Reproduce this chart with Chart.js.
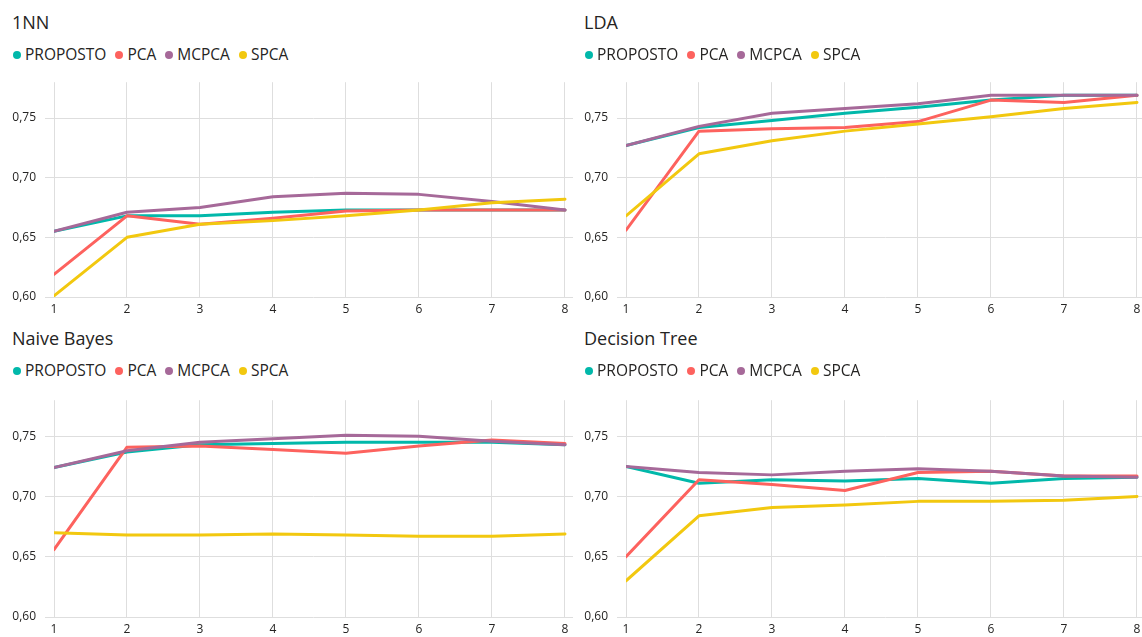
<!DOCTYPE html>
<html>
<head>
<meta charset="utf-8">
<script src="https://cdn.jsdelivr.net/npm/chart.js@4.4.1/dist/chart.umd.min.js"></script>
<style>
  html, body { margin: 0; padding: 0; background: #fff; overflow: hidden; width: 1142px; height: 637px; }
  body { position: relative; font-family: 'Open Sans', sans-serif; color: #252423; }
  .panel-title { position: absolute; font-size: 18px; line-height: 1; white-space: nowrap; }
  .legend { position: absolute; display: flex; align-items: center; font-size: 15.5px; line-height: 1; white-space: nowrap; }
  .legend .item { display: flex; align-items: center; margin-right: 9px; }
  .legend .dot { width: 8px; height: 8px; border-radius: 50%; margin-right: 4px; flex: none; }
  .plot { position: absolute; }
</style>
</head>
<body>
<script>
// Number of principal components (x axis)
const components = [1, 2, 3, 4, 5, 6, 7, 8];
const componentLabels = ['1', '2', '3', '4', '5', '6', '7', '8'];
// Accuracy ticks shown on the y axis
const accuracyTicks = [0.60, 0.65, 0.70, 0.75];

const seriesNames = ['PROPOSTO', 'PCA', 'MCPCA', 'SPCA'];
const seriesColors = ['#01B8AA', '#FD625E', '#A66999', '#F2C80F'];

// 1NN classifier accuracy
const nnProposto = [0.655, 0.668, 0.668, 0.671, 0.673, 0.673, 0.673, 0.673];
const nnPca      = [0.619, 0.668, 0.661, 0.666, 0.672, 0.673, 0.673, 0.673];
const nnMcpca    = [0.655, 0.671, 0.675, 0.684, 0.687, 0.686, 0.680, 0.673];
const nnSpca     = [0.601, 0.650, 0.661, 0.664, 0.668, 0.673, 0.679, 0.682];

// LDA classifier accuracy
const ldaProposto = [0.727, 0.742, 0.748, 0.754, 0.759, 0.765, 0.769, 0.769];
const ldaPca      = [0.656, 0.739, 0.741, 0.742, 0.747, 0.765, 0.763, 0.769];
const ldaMcpca    = [0.727, 0.743, 0.754, 0.758, 0.762, 0.769, 0.769, 0.769];
const ldaSpca     = [0.668, 0.720, 0.731, 0.739, 0.745, 0.751, 0.758, 0.763];

// Naive Bayes classifier accuracy
const nbProposto = [0.724, 0.737, 0.743, 0.744, 0.745, 0.745, 0.745, 0.743];
const nbPca      = [0.656, 0.741, 0.742, 0.739, 0.736, 0.742, 0.747, 0.744];
const nbMcpca    = [0.724, 0.738, 0.745, 0.748, 0.751, 0.750, 0.746, 0.743];
const nbSpca     = [0.670, 0.668, 0.668, 0.669, 0.668, 0.667, 0.667, 0.669];

// Decision Tree classifier accuracy
const dtProposto = [0.725, 0.711, 0.714, 0.713, 0.715, 0.711, 0.715, 0.716];
const dtPca      = [0.650, 0.714, 0.710, 0.705, 0.720, 0.721, 0.717, 0.717];
const dtMcpca    = [0.725, 0.720, 0.718, 0.721, 0.723, 0.721, 0.717, 0.716];
const dtSpca     = [0.630, 0.684, 0.691, 0.693, 0.696, 0.696, 0.697, 0.700];

const panels = [
  { title: '1NN',           series: [nnProposto, nnPca, nnMcpca, nnSpca],
    left: 0,   titleTop: 13,  legendTop: 47,  canvasTop: 66,  canvasHeight: 256, padTop: 10.5, axisHeight: 25 },
  { title: 'LDA',           series: [ldaProposto, ldaPca, ldaMcpca, ldaSpca],
    left: 572, titleTop: 13,  legendTop: 47,  canvasTop: 66,  canvasHeight: 256, padTop: 10.5, axisHeight: 25 },
  { title: 'Naive Bayes',   series: [nbProposto, nbPca, nbMcpca, nbSpca],
    left: 0,   titleTop: 329, legendTop: 363, canvasTop: 384, canvasHeight: 253, padTop: 8.2,  axisHeight: 20 },
  { title: 'Decision Tree', series: [dtProposto, dtPca, dtMcpca, dtSpca],
    left: 572, titleTop: 329, legendTop: 363, canvasTop: 384, canvasHeight: 253, padTop: 8.2,  axisHeight: 20 }
];

const gridColor = '#dedede';
const tickColor = '#252423';
const tickFont = { family: "'Open Sans', sans-serif", size: 12 };

function addTitle(p) {
  const t = document.createElement('div');
  t.className = 'panel-title';
  t.textContent = p.title;
  t.style.left = (p.left + 12) + 'px';
  t.style.top = p.titleTop + 'px';
  document.body.appendChild(t);
}

function addLegend(p) {
  const lg = document.createElement('div');
  lg.className = 'legend';
  lg.style.left = (p.left + 13) + 'px';
  lg.style.top = p.legendTop + 'px';
  seriesNames.forEach((name, i) => {
    const item = document.createElement('span');
    item.className = 'item';
    const dot = document.createElement('span');
    dot.className = 'dot';
    dot.style.background = seriesColors[i];
    const label = document.createElement('span');
    label.textContent = name;
    item.appendChild(dot);
    item.appendChild(label);
    lg.appendChild(item);
  });
  document.body.appendChild(lg);
}

function addChart(p) {
  const canvas = document.createElement('canvas');
  canvas.className = 'plot';
  canvas.width = 575;
  canvas.height = p.canvasHeight;
  canvas.style.left = p.left + 'px';
  canvas.style.top = p.canvasTop + 'px';
  canvas.style.width = '575px';
  canvas.style.height = p.canvasHeight + 'px';
  document.body.appendChild(canvas);

  const datasets = seriesNames.map((name, i) => ({
    label: name,
    data: components.map((c, j) => ({ x: c, y: p.series[i][j] })),
    borderColor: seriesColors[i],
    backgroundColor: seriesColors[i],
    borderWidth: 3,
    pointRadius: 0,
    pointHoverRadius: 0,
    tension: 0,
    borderJoinStyle: 'round',
    borderCapStyle: 'round',
    order: seriesNames.length - i
  }));

  new Chart(canvas, {
    type: 'line',
    data: { datasets },
    options: {
      responsive: false,
      animation: false,
      events: [],
      layout: { padding: { top: p.padTop, right: 2, left: 0, bottom: 0 } },
      plugins: { legend: { display: false }, tooltip: { enabled: false } },
      scales: {
        x: {
          type: 'linear',
          min: 1,
          max: 8.11,
          afterBuildTicks: s => { s.ticks = components.map(v => ({ value: v })); },
          afterFit: s => { s.height = p.axisHeight; },
          grid: { color: gridColor, lineWidth: 1, drawTicks: false },
          border: { display: false },
          ticks: {
            padding: 5, color: tickColor, font: tickFont, maxRotation: 0, autoSkip: false,
            callback: (v, i) => componentLabels[i]
          }
        },
        y: {
          min: 0.60,
          max: 0.78,
          afterBuildTicks: s => { s.ticks = accuracyTicks.map(v => ({ value: v })); },
          afterFit: s => { s.width = 54; },
          grid: { color: gridColor, lineWidth: 1, tickLength: 9 },
          border: { display: false },
          ticks: {
            padding: 9, color: tickColor, font: tickFont,
            callback: v => v.toFixed(2).replace('.', ',')
          }
        }
      }
    }
  });
}

panels.forEach(p => { addTitle(p); addLegend(p); addChart(p); });
</script>
</body>
</html>
